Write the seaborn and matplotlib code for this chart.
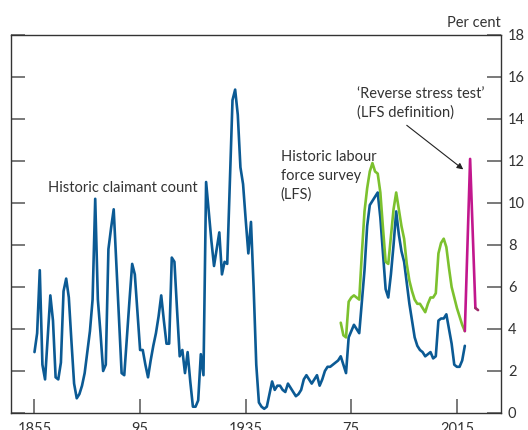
import numpy as np
import pandas as pd
import seaborn as sns
from matplotlib import pyplot as plt

# historic claimant count, annual, 1855-2018 (per cent)
claimant_years = list(range(1855, 2019))
claimant_rate = [
    2.9, 3.8, 6.8, 2.3, 1.6,                                  # 1855-59
    3.6, 5.6, 4.4, 1.7, 1.6, 2.4, 5.8, 6.4, 5.5, 3.4,         # 1860s
    1.4, 0.7, 0.9, 1.3, 1.9, 2.9, 3.9, 5.4, 10.2, 5.4,        # 1870s
    3.8, 2.0, 2.3, 7.8, 8.8, 9.7, 7.1, 4.5, 1.9, 1.8,         # 1880s
    3.6, 5.4, 7.1, 6.6, 4.8, 3.0, 3.0, 2.3, 1.7, 2.5,         # 1890s
    3.2, 3.8, 4.6, 5.6, 4.4, 3.3, 3.3, 7.4, 7.2, 4.9,         # 1900s
    2.7, 3.0, 1.9, 2.9, 1.5, 0.3, 0.3, 0.6, 2.8, 1.8,         # 1910s
    11.0, 9.6, 8.2, 7.0, 7.8, 8.6, 6.6, 7.2, 7.1, 11.0,       # 1920s
    14.9, 15.4, 14.2, 11.7, 10.9, 9.2, 7.6, 9.1, 6.0, 2.3,    # 1930s
    0.5, 0.3, 0.2, 0.3, 0.9, 1.5, 1.1, 1.3, 1.3, 1.1,         # 1940s
    1.0, 1.4, 1.2, 1.0, 0.8, 0.9, 1.1, 1.6, 1.8, 1.6,         # 1950s
    1.4, 1.6, 1.8, 1.3, 1.6, 2.0, 2.2, 2.2, 2.3, 2.4,         # 1960s
    2.5, 2.7, 2.3, 1.9, 3.6, 3.9, 4.2, 4.0, 3.8, 5.3,         # 1970s
    6.8, 8.9, 9.9, 10.1, 10.3, 10.5, 9.3, 7.6, 5.9, 5.5,      # 1980s
    6.6, 8.0, 9.6, 8.5, 7.7, 7.2, 6.2, 5.2, 4.4, 3.6,         # 1990s
    3.2, 3.0, 2.9, 2.7, 2.8, 2.9, 2.6, 2.7, 4.4, 4.5,         # 2000s
    4.5, 4.7, 4.0, 3.3, 2.3, 2.2, 2.2, 2.5, 3.2,              # 2010-18
]

# historic labour force survey, 1971-2018
lfs_years = list(range(1971, 2019))
lfs_rate = [
    4.3, 3.7, 3.6, 5.3, 5.5, 5.6, 5.5, 5.4, 7.6,              # 1971-79
    9.6, 10.7, 11.5, 11.9, 11.5, 11.4, 10.5, 8.8, 7.2, 7.1,   # 1980s
    8.4, 9.7, 10.5, 9.7, 8.9, 8.3, 7.1, 6.3, 5.8, 5.4,        # 1990s
    5.2, 5.2, 5.0, 4.8, 5.2, 5.5, 5.5, 5.7, 7.6, 8.1,         # 2000s
    8.3, 7.9, 6.9, 6.0, 5.5, 5.0, 4.6, 4.2, 3.9,              # 2010-18
]

# reverse stress test path (LFS definition)
stress_years = [2018, 2020, 2022]
stress_rate = [3.9, 12.1, 5.0]
stress_tail_years = [2022, 2023]
stress_tail_rate = [5.0, 4.9]

xtick_pos = [1855, 1895, 1935, 1975, 2015]
xtick_labels = ['1855', '95', '1935', '75', '2015']
ytick_pos = list(range(0, 19, 2))

BLUE = '#0b5a94'
GREEN = '#7cc12e'
MAGENTA = '#c2178d'
MAGENTA_DARK = '#9e2c6c'
TEXT = '#333333'
FS = 10.5

sns.set_theme(style='white')
plt.rcParams['font.family'] = ['Lato', 'DejaVu Sans']

fig = plt.figure(figsize=(5.28, 4.30), dpi=100)
ax = fig.add_axes([11 / 528, 17 / 430, 490 / 528, 378 / 430])

claimant = pd.DataFrame({'year': claimant_years, 'rate': claimant_rate})
lfs = pd.DataFrame({'year': lfs_years, 'rate': lfs_rate})

lw = 1.9
sns.lineplot(data=claimant, x='year', y='rate', color=BLUE, linewidth=lw, ax=ax)
sns.lineplot(data=lfs, x='year', y='rate', color=GREEN, linewidth=lw, ax=ax)
sns.lineplot(x=stress_years, y=stress_rate, color=MAGENTA, linewidth=lw, ax=ax)
sns.lineplot(x=stress_tail_years, y=stress_tail_rate, color=MAGENTA_DARK, linewidth=lw, ax=ax)

ax.set_xlim(1846.1, 2031.7)
ax.set_ylim(0, 18)
ax.set_xlabel('')
ax.set_ylabel('')

ax.set_xticks(xtick_pos)
ax.set_xticklabels(xtick_labels)
ax.set_yticks(ytick_pos)
# bottom labels sit low and are partly clipped, as in the original
ax.tick_params(axis='x', direction='in', length=10, width=1.1, color='#555555',
               pad=6.5, labelsize=FS, labelcolor=TEXT, top=False, bottom=True)
ax.tick_params(axis='y', direction='in', length=10, width=1.1, color='#555555',
               pad=5, labelsize=FS, labelcolor=TEXT, left=True, right=True,
               labelleft=False, labelright=True)
for side in ax.spines.values():
    side.set_color('#333333')
    side.set_linewidth(1.0)

ax.text(1.0, 1.033, 'Per cent', transform=ax.transAxes, ha='right', va='center',
        fontsize=FS, color=TEXT)

ax.text(1860.1, 10.7, 'Historic claimant count', ha='left', va='center',
        fontsize=FS, color=TEXT)
ax.text(1948.3, 12.5, 'Historic labour\nforce survey\n(LFS)', ha='left', va='top',
        fontsize=FS, color=TEXT, linespacing=1.4)
ax.text(1977.0, 15.5, '\u2018Reverse stress test\u2019\n(LFS definition)', ha='left', va='top',
        fontsize=FS, color=TEXT, linespacing=1.3)
ax.annotate('', xy=(2017.4, 11.6), xytext=(1996.0, 13.7),
            arrowprops=dict(arrowstyle='-|>', color='#222222', lw=0.8,
                            mutation_scale=9, shrinkA=0, shrinkB=0))

fig.savefig('out.png', dpi=100)
